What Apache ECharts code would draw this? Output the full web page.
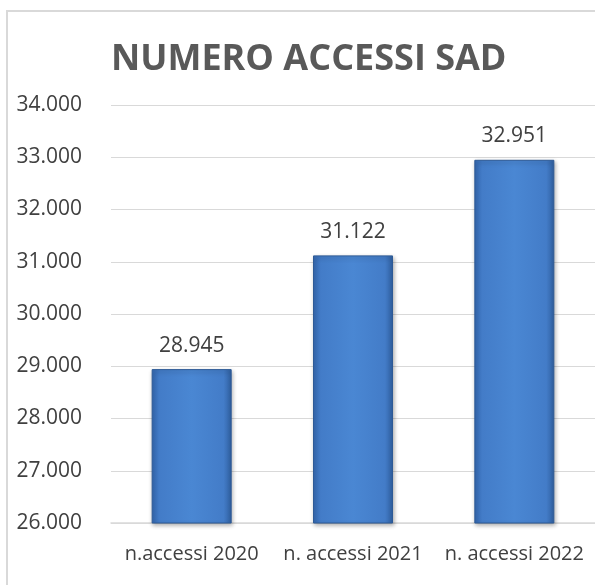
<!DOCTYPE html>
<html><head><meta charset="utf-8">
<script src="https://cdn.jsdelivr.net/npm/echarts@6/dist/echarts.min.js"></script>
<style>html,body{margin:0;padding:0;background:#fff}#c{width:595px;height:585px}</style>
</head><body><div id="c"></div>
<script>
const categories = ['n.accessi 2020', 'n. accessi 2021', 'n. accessi 2022'];
const values = [28945, 31122, 32951];
const yMin = 26000, yMax = 34000, yStep = 1000;
const titleText = 'NUMERO ACCESSI SAD';

function fmt(v){ return String(Math.round(v)).replace(/\B(?=(\d{3})+(?!\d))/g, '.'); }
const FONT = '"Open Sans", "Liberation Sans", sans-serif';

const chart = echarts.init(document.getElementById('c'), null, {renderer:'canvas'});
chart.setOption({
  animation:false,
  backgroundColor:'#fff',
  title:{ text:titleText, left:106, top:37,
    textStyle:{ fontFamily:FONT, fontWeight:'bold', fontSize:36, color:'#595959' } },
  graphic:[{ type:'rect', shape:{x:7,y:11,width:700,height:700},
    style:{ fill:'none', stroke:'#d9d9d9', lineWidth:2 } }],
  grid:{ left:111, top:105, width:489, height:418 },
  xAxis:{ type:'category', data:categories,
    axisLine:{ lineStyle:{ color:'#d9d9d9', width:1.5 } },
    axisTick:{ show:false },
    axisLabel:{ interval:0, hideOverlap:false, fontFamily:FONT, fontSize:20, color:'#404040', margin:21 } },
  yAxis:{ type:'value', min:yMin, max:yMax, interval:yStep,
    axisLine:{ show:false }, axisTick:{ show:false },
    splitLine:{ lineStyle:{ color:'#d9d9d9', width:1.2 } },
    axisLabel:{ fontFamily:FONT, fontSize:21, color:'#404040', margin:29, formatter:fmt } },
  series:[{ type:'bar', data:values, barWidth:80,
    itemStyle:{
      color:{ type:'linear', x:0, y:0, x2:1, y2:0, colorStops:[
        {offset:0, color:'#3468b0'}, {offset:0.1, color:'#437cc8'},
        {offset:0.5, color:'#4a87d3'}, {offset:0.9, color:'#437cc8'}, {offset:1, color:'#2f5f9f'} ] },
      borderColor:'#2d5a96', borderWidth:1,
      shadowColor:'rgba(0,0,0,0.3)', shadowBlur:4, shadowOffsetX:1, shadowOffsetY:2 },
    label:{ show:true, position:'top', distance:13, fontFamily:FONT, fontSize:21, color:'#404040',
      formatter:p=>fmt(p.value) } }]
});
</script></body></html>
